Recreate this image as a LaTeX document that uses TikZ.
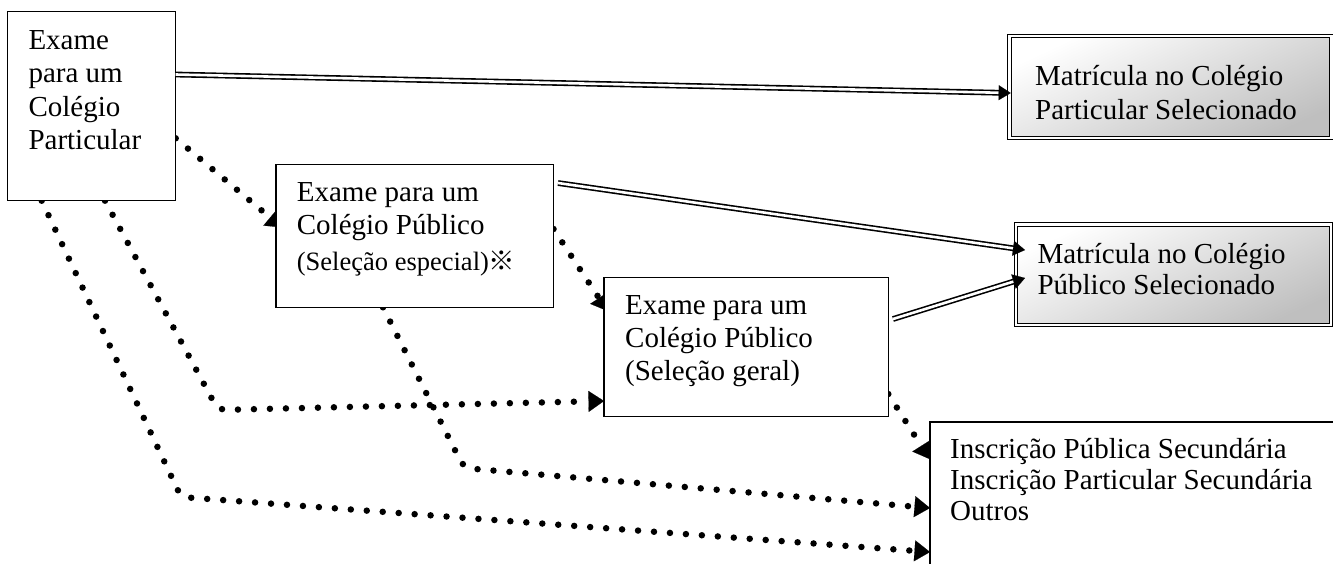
\documentclass[tikz,border=0pt]{standalone}
\usepackage{fontspec}
\setmainfont{Liberation Serif}
\newfontfamily\cjkfont{Noto Sans CJK JP}
\usetikzlibrary{arrows.meta,calc}
\pgfdeclarelayer{bg}
\pgfsetlayers{bg,main}
\newcommand\tlines[2]{\vtop{\baselineskip=#1\lineskiplimit=-100pt\lineskip=0pt\halign{##\hfil\cr#2\crcr}}}
\begin{document}
\begin{tikzpicture}[x=1pt,y=-1pt,
  font=\fontsize{29}{33}\selectfont,
  box/.style={draw,line width=1.3pt,fill=white,inner sep=0pt,outer sep=0pt,anchor=north west},
  mbox/.style={draw,line width=1pt,double=white,double distance=2.6pt,top color=white,bottom color=gray!50,shading angle=25,inner sep=0pt,outer sep=0pt,anchor=north west},
  txt/.style={inner sep=0pt,anchor=base west},
  dots/.style={line width=6.5pt,line cap=round,dash pattern=on 0pt off 16pt,rounded corners=8pt,-{Triangle[length=15.5pt,width=21pt,line width=0.1pt]}},
  dline/.style={double=white,line width=1.6pt,double distance=2.6pt,shorten >=10.5pt},
  dtip/.style={line width=0.1pt,-{Triangle[length=12pt,width=15pt,line width=0.1pt]}}
]
\useasboundingbox (0,0) rectangle (1333,563);
\clip (0,0) rectangle (1333,563);

% boxes
\node[box,minimum width=168.4pt,minimum height=189pt] (a) at (7.3,11.7) {};
\node[box,minimum width=277.5pt,minimum height=143pt] (b) at (276,164.3) {};
\node[box,minimum width=284.3pt,minimum height=139.4pt] (c) at (604,277.3) {};
\node[mbox,minimum width=322pt,minimum height=102pt] (d) at (1009.5,36) {};
\node[mbox,minimum width=315pt,minimum height=100.3pt] (e) at (1016,224.7) {};
\node[box,minimum width=420pt,minimum height=168pt] (f) at (930,422) {};

% texts
\node[txt] (ta) at (28.3,49) {\tlines{33.5pt}{Exame\cr para um\cr Colégio\cr Particular}};
\node[txt] (tb) at (296.7,201.5) {\tlines{33pt}{Exame para um\cr Colégio Público\cr\noalign{\kern2.5pt}{\fontsize{26.5}{30}\selectfont(Seleção especial)\cjkfont ※}}};
\node[txt] (tc) at (625,314) {\tlines{33pt}{Exame para um\cr Colégio Público\cr (Seleção geral)}};
\node[txt] (td) at (1035,85) {\tlines{34pt}{Matrícula no Colégio\cr Particular Selecionado}};
\node[txt] (te) at (1037.3,263.3) {\tlines{31.2pt}{Matrícula no Colégio\cr Público Selecionado}};
\node[txt] (tf) at (950,458.3) {\tlines{31.2pt}{Inscrição Pública Secundária\cr Inscrição Particular Secundária\cr Outros}};

% bends of dotted connectors
\coordinate (k4) at (218,410);
\coordinate (k5) at (181,497);
\coordinate (k6) at (464,468);

\begin{pgfonlayer}{bg}
\draw[dots] ([yshift=-32.1pt]a.east) -- ([xshift=6pt,yshift=8.3pt]b.west);
\draw[dots] ([yshift=6.8pt]b.east) -- ([xshift=3.5pt,yshift=36pt]c.west);
\draw[dots] ([yshift=-47pt]c.east) -- ([xshift=-0.5pt,yshift=47pt]f.west);
\draw[dots] ([xshift=13.5pt]a.south) -- (k4) -- ([yshift=-54pt]c.west);
\draw[dots] ([xshift=-49.8pt]a.south) -- (k5) -- ([yshift=-46pt]f.west);
\draw[dots] ([xshift=-31.75pt]b.south) -- (k6) -- ([yshift=-2pt]f.west);
\end{pgfonlayer}

% double connectors
\coordinate (s1) at ([yshift=31.7pt]a.east);
\coordinate (e1) at ([xshift=1.2pt,yshift=-6pt]d.west);
\coordinate (s2) at ([xshift=4.5pt,yshift=52.8pt]b.east);
\coordinate (e2) at ([xshift=9pt,yshift=24.85pt]e.west);
\coordinate (s3) at ([xshift=4.7pt,yshift=28pt]c.east);
\coordinate (e3) at ([xshift=9pt,yshift=-3.15pt]e.west);
\draw[dline] (s1) -- (e1);
\draw[dtip] ($(e1)!11.5pt!(s1)$) -- (e1);
\draw[dline] (s2) -- (e2);
\draw[dtip] ($(e2)!11.5pt!(s2)$) -- (e2);
\draw[dline] (s3) -- (e3);
\draw[dtip] ($(e3)!11.5pt!(s3)$) -- (e3);
\end{tikzpicture}
\end{document}
